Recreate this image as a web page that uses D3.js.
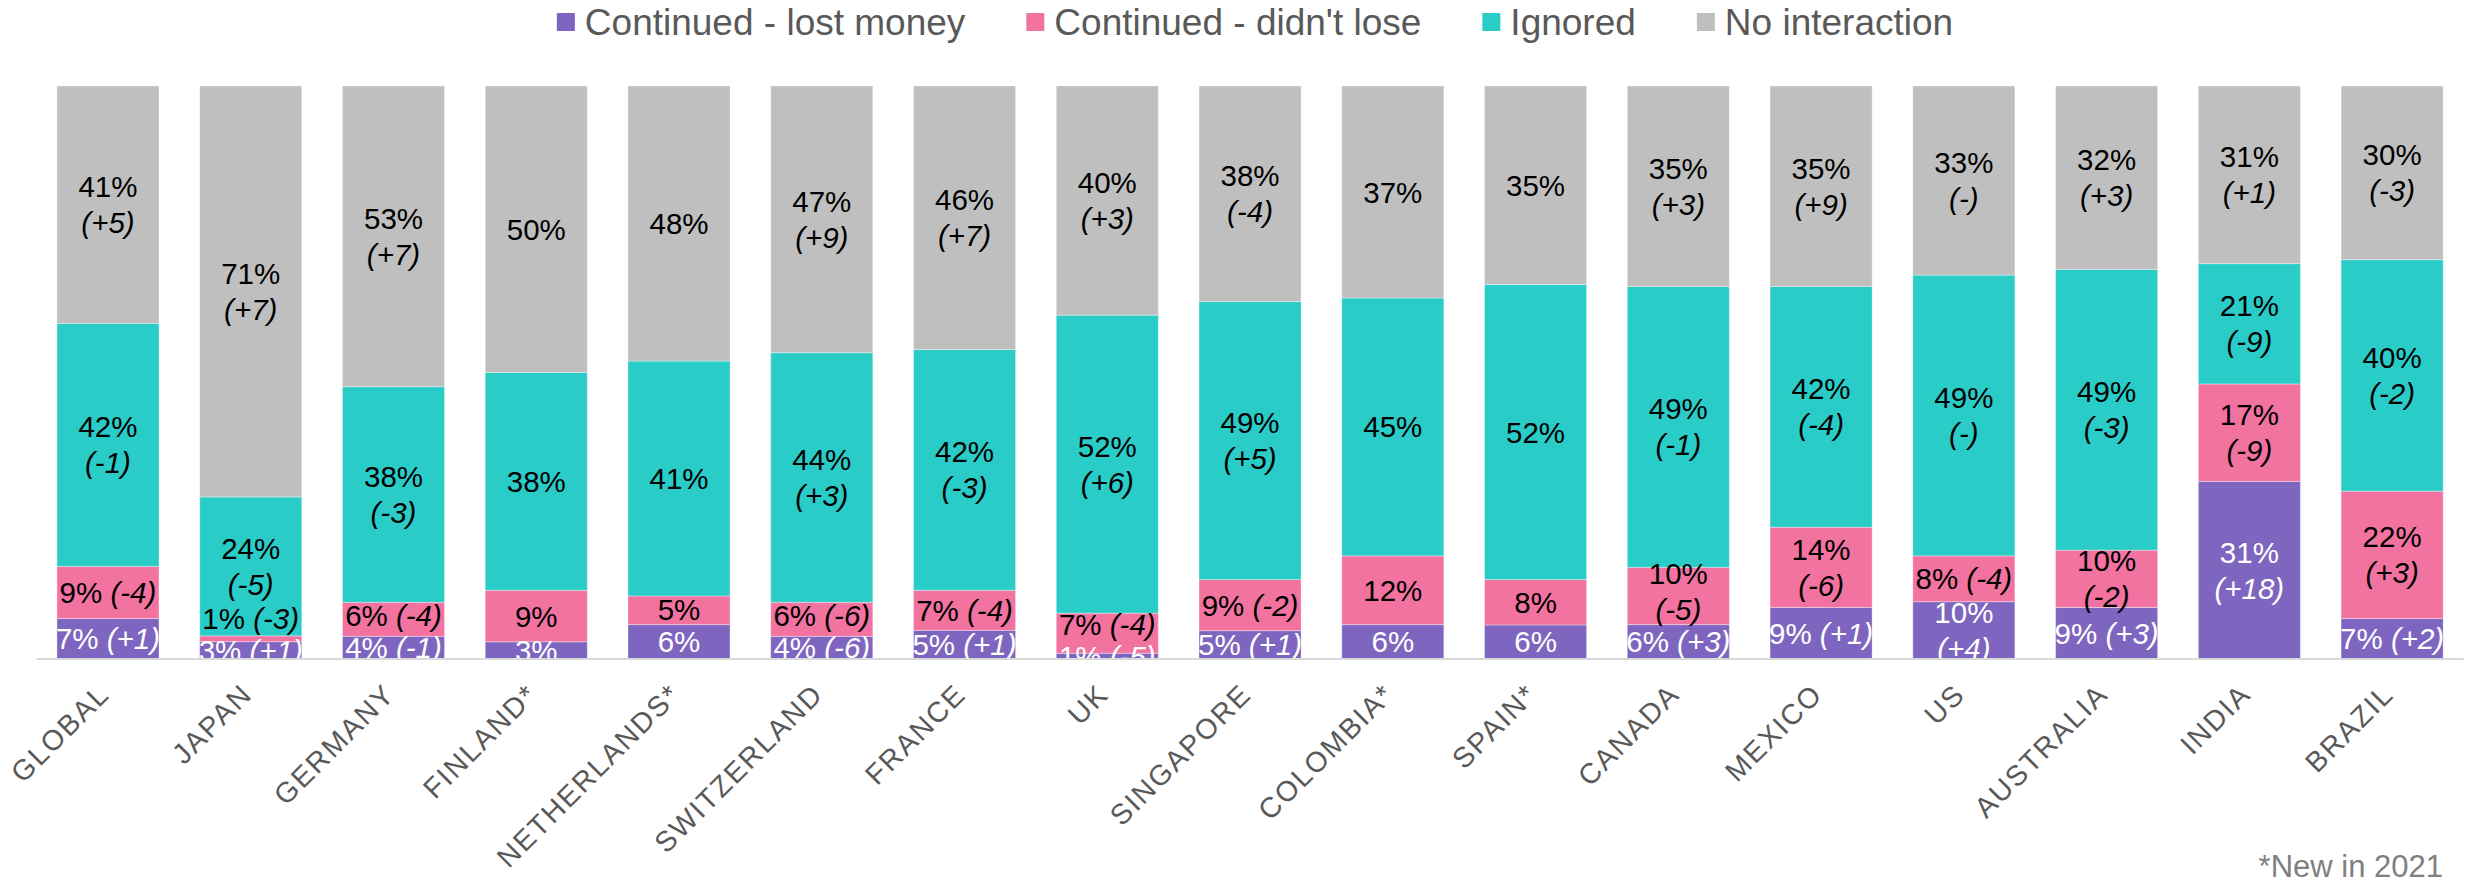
<!DOCTYPE html>
<html>
<head>
<meta charset="utf-8">
<script src="https://cdn.jsdelivr.net/npm/d3@7"></script>
<style>
  html, body { margin: 0; padding: 0; background: #ffffff; }
  svg { display: block; font-family: "Liberation Sans", Arial, sans-serif; }
</style>
</head>
<body>
<svg id="chart" width="2468" height="882"></svg>
<script>
// categories
const countries = ["GLOBAL", "JAPAN", "GERMANY", "FINLAND*", "NETHERLANDS*", "SWITZERLAND", "FRANCE", "UK",
  "SINGAPORE", "COLOMBIA*", "SPAIN*", "CANADA", "MEXICO", "US", "AUSTRALIA", "INDIA", "BRAZIL"];

const seriesNames = ["Continued - lost money", "Continued - didn't lose", "Ignored", "No interaction"];

// series values (%), bottom to top
const lostMoney     = [7, 3, 4, 3, 6, 4, 5, 1, 5, 6, 6, 6, 9, 10, 9, 31, 7];
const didntLose     = [9, 1, 6, 9, 5, 6, 7, 7, 9, 12, 8, 10, 14, 8, 10, 17, 22];
const ignored       = [42, 24, 38, 38, 41, 44, 42, 52, 49, 45, 52, 49, 42, 49, 49, 21, 40];
const noInteraction = [41, 71, 53, 50, 48, 47, 46, 40, 38, 37, 35, 35, 35, 33, 32, 31, 30];

// change vs previous year (null = new market)
const lostMoneyChange     = ["+1", "+1", "-1", null, null, "-6", "+1", "-5", "+1", null, null, "+3", "+1", "+4", "+3", "+18", "+2"];
const didntLoseChange     = ["-4", "-3", "-4", null, null, "-6", "-4", "-4", "-2", null, null, "-5", "-6", "-4", "-2", "-9", "+3"];
const ignoredChange       = ["-1", "-5", "-3", null, null, "+3", "-3", "+6", "+5", null, null, "-1", "-4", "-", "-3", "-9", "-2"];
const noInteractionChange = ["+5", "+7", "+7", null, null, "+9", "+7", "+3", "-4", null, null, "+3", "+9", "-", "+3", "+1", "-3"];

const footnote = "*New in 2021";

const seriesValues = [lostMoney, didntLose, ignored, noInteraction];
const seriesChanges = [lostMoneyChange, didntLoseChange, ignoredChange, noInteractionChange];
const colors = ["#7e66c0", "#f272a0", "#2accc8", "#bfbfbf"];
const labelColors = ["#ffffff", "#000000", "#000000", "#000000"];

const d3 = window.d3;
const svg = d3.select("#chart");
const W = 2468, H = 882;

const plot = { left: 36.6, right: 2463.5, top: 86, bottom: 659 };

// table for the stack
const rows = countries.map((c, i) => {
  const r = { country: c, idx: i };
  seriesNames.forEach((s, k) => { r[s] = seriesValues[k][i]; });
  return r;
});

const stacked = d3.stack()
  .keys(seriesNames)
  .offset(d3.stackOffsetExpand)(rows);

const x = d3.scaleBand()
  .domain(countries)
  .range([plot.left, plot.right])
  .paddingInner(0.285)
  .paddingOuter(0.1425);

const y = d3.scaleLinear()
  .domain([0, 1])
  .range([plot.bottom, plot.top]);

// bars
const layers = svg.append("g").selectAll("g.layer")
  .data(stacked)
  .enter()
  .append("g")
  .attr("class", "layer")
  .attr("fill", (d, i) => colors[i]);

layers.selectAll("rect")
  .data(d => d)
  .enter()
  .append("rect")
  .attr("x", d => x(d.data.country))
  .attr("width", x.bandwidth())
  .attr("y", d => y(d[1]))
  .attr("height", d => y(d[0]) - y(d[1]))
  .attr("stroke", "rgba(255,255,255,0.35)")
  .attr("stroke-width", 1);

// baseline
svg.append("line")
  .attr("x1", plot.left).attr("x2", plot.right)
  .attr("y1", plot.bottom).attr("y2", plot.bottom)
  .attr("stroke", "#d9d9d9")
  .attr("stroke-width", 2);

// labels, clipped to the plot area
svg.append("defs").append("clipPath")
  .attr("id", "clipPlot")
  .append("rect")
  .attr("x", 0).attr("y", 0)
  .attr("width", W).attr("height", plot.bottom - 1);

const labelLayer = svg.append("g").attr("clip-path", "url(#clipPlot)");
const fs = 29.5, lineH = 36, boxH = 32, base = 10.5;

countries.forEach((c, i) => {
  const cx = x(c) + x.bandwidth() / 2;
  let prevTop = Infinity;
  stacked.forEach((layer, k) => {
    const seg = layer[i];
    const v = seriesValues[k][i];
    const ch = seriesChanges[k][i];
    const two = ch !== null && v >= 10;
    const h = two ? boxH + lineH : boxH;
    let cy = (y(seg[0]) + y(seg[1])) / 2;
    if (cy + h / 2 > prevTop) cy = prevTop - h / 2;
    prevTop = cy - h / 2;

    const t = labelLayer.append("text")
      .attr("text-anchor", "middle")
      .attr("font-size", fs)
      .attr("fill", labelColors[k]);

    if (two) {
      t.append("tspan").attr("x", cx).attr("y", cy - lineH / 2 + base).text(v + "%");
      t.append("tspan").attr("x", cx).attr("y", cy + lineH / 2 + base)
        .attr("font-style", "italic").text("(" + ch + ")");
    } else {
      t.attr("x", cx).attr("y", cy + base);
      t.append("tspan").text(v + "%");
      if (ch !== null) {
        t.append("tspan").text(" ");
        t.append("tspan").attr("font-style", "italic").text("(" + ch + ")");
      }
    }
  });
});

// x axis labels, rotated
svg.append("g").selectAll("text")
  .data(countries)
  .enter()
  .append("text")
  .attr("transform", d => `translate(${x(d) + x.bandwidth() / 2 + 3},${plot.bottom + 37}) rotate(-45)`)
  .attr("text-anchor", "end")
  .attr("font-size", 28.5)
  .attr("letter-spacing", 1.8)
  .attr("fill", "#595959")
  .text(d => d);

// legend
const legend = svg.append("g");
const legFs = 37, sq = 18, gapText = 10, gapItem = 61;
let lx = 0;
seriesNames.forEach((s, k) => {
  const g = legend.append("g").attr("transform", `translate(${lx},0)`);
  g.append("rect").attr("x", 0).attr("y", 13).attr("width", sq).attr("height", sq).attr("fill", colors[k]);
  const t = g.append("text")
    .attr("x", sq + gapText).attr("y", 35)
    .attr("font-size", legFs)
    .attr("fill", "#595959")
    .text(s);
  lx += sq + gapText + t.node().getComputedTextLength() + gapItem;
});
const legW = lx - gapItem;
legend.attr("transform", `translate(${1255 - legW / 2},0)`);

// footnote
svg.append("text")
  .attr("x", 2443).attr("y", 877)
  .attr("text-anchor", "end")
  .attr("font-size", 31)
  .attr("fill", "#808080")
  .text(footnote);
</script>
</body>
</html>
